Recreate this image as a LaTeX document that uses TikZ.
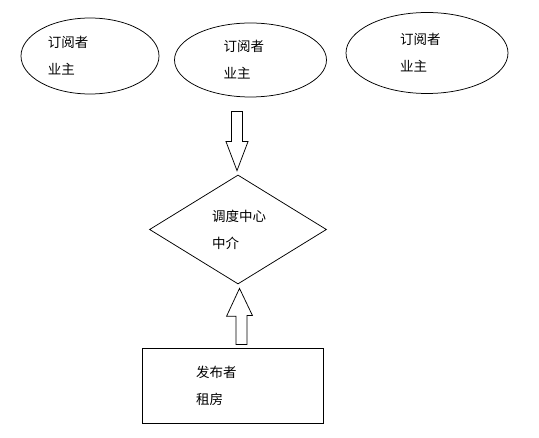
\documentclass[tikz,border=0pt]{standalone}
\usepackage{fontspec}
\newfontfamily\cjk{Noto Sans CJK SC}
\usetikzlibrary{shapes.geometric,calc}

\begin{document}
\begin{tikzpicture}[
      x=1pt, y=-1pt,
      every node/.style={font=\cjk\fontsize{13.5}{27}\selectfont, align=left},
      party/.style={ellipse, draw, line width=0.75pt, inner sep=0pt},
      hub/.style={diamond, draw, line width=0.75pt, inner sep=0pt, minimum width=177pt, minimum height=109pt},
      source/.style={rectangle, draw, line width=0.75pt, inner sep=0pt, minimum width=181pt, minimum height=75pt},
      fatarrow/.style={draw, line width=0.75pt, line join=miter}
    ]
    \useasboundingbox (0,0) rectangle (539,438);

    % Top row: subscribers
    \node[party, minimum width=138pt, minimum height=76pt, text width=84pt] (sub1) at (90,56) {订阅者\\业主};
    \node[party, minimum width=152pt, minimum height=74pt, text width=54pt] (sub2) at (250.5,60) {订阅者\\业主};
    \node[party, minimum width=162pt, minimum height=81pt, text width=54pt] (sub3) at (427,53) {订阅者\\业主};

    % Middle: dispatch centre
    \node[hub, text width=52pt] (broker) at (238,229.5) {调度中心\\中介};

    % Bottom: publisher
    \node[source, text width=73pt] (publisher) at (232.5,385.5) {发布者\\租房};

    % Block arrows
    \draw[fatarrow] ($(broker.north)+(-6.5,-63)$) -- ++(11,0) -- ++(0,30) -- ++(5.5,0)
      -- ($(broker.north)+(-1,-4)$) -- ($(broker.north)+(-12,-33)$) -- ++(5.5,0) -- cycle;
    \draw[fatarrow] ($(publisher.north)+(3.5,-3)$) -- ++(11,0) -- ++(0,-29) -- ++(5.5,0)
      -- ($(broker.south)+(1.5,4)$) -- ($(broker.south)+(-11.5,32)$) -- ++(9.5,0) -- cycle;

\end{tikzpicture}
\end{document}
